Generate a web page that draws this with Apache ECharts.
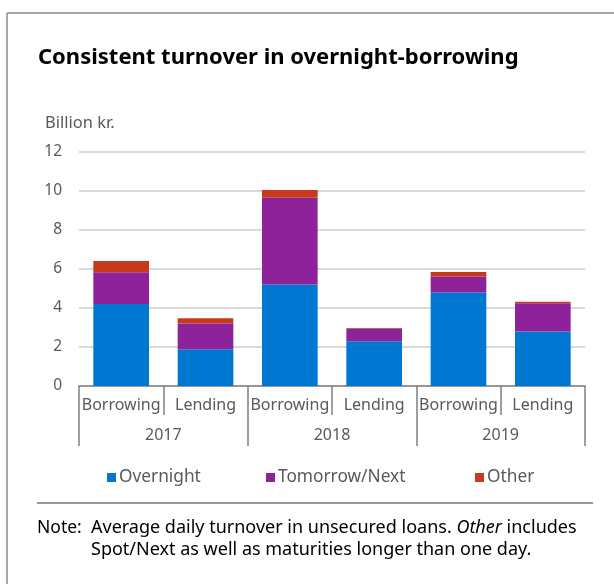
<!DOCTYPE html>
<html>
<head>
<meta charset="utf-8">
<script src="https://cdn.jsdelivr.net/npm/echarts@6/dist/echarts.min.js"></script>
<style>
html,body{margin:0;padding:0;background:#fff;}
#chart{width:614px;height:584px;}
</style>
</head>
<body>
<div id="chart"></div>
<script>
var categories = ['Borrowing', 'Lending', 'Borrowing', 'Lending', 'Borrowing', 'Lending'];
var years = ['2017', '2018', '2019'];
var overnight = [4.2, 1.88, 5.21, 2.29, 4.79, 2.8];
var tomorrowNext = [1.63, 1.33, 4.45, 0.65, 0.83, 1.44];
var other = [0.58, 0.26, 0.39, 0.03, 0.23, 0.08];
var seriesNames = ['Overnight', 'Tomorrow/Next', 'Other'];
var colors = ['#0078D2', '#8E229A', '#C83A1E'];

var FONT = 'Noto Sans';
var chart = echarts.init(document.getElementById('chart'));

function legendAt(name, left) {
  return {
    data: [name], left: left, top: 464, itemWidth: 9, itemHeight: 9, itemGap: 0,
    icon: 'rect', selectedMode: false,
    textStyle: { fontFamily: FONT, fontSize: 17.3, color: '#595959', padding: [0, 0, 0, -2] }
  };
}

var option = {
  animation: false,
  color: colors,
  title: {
    text: 'Consistent turnover in overnight-borrowing',
    left: 33, top: 42,
    textStyle: { fontFamily: FONT, fontSize: 22, fontWeight: 'bold', color: '#000' }
  },
  legend: [legendAt(seriesNames[0], 102), legendAt(seriesNames[1], 261), legendAt(seriesNames[2], 470)],
  grid: { left: 79, right: 29, top: 152, bottom: 198, containLabel: false },
  xAxis: [
    {
      type: 'category', data: categories, position: 'bottom',
      axisLine: { lineStyle: { color: '#808080', width: 1.5 } },
      axisTick: { show: true, interval: 0, length: 29, lineStyle: { color: '#808080', width: 1.5 } },
      axisLabel: { interval: 0, margin: 11, fontFamily: FONT, fontSize: 16, color: '#595959' }
    },
    {
      type: 'category', data: years, position: 'bottom',
      axisLine: { show: false },
      axisTick: { show: true, interval: 0, length: 60, lineStyle: { color: '#808080', width: 1.5 } },
      axisLabel: { interval: 0, margin: 41, fontFamily: FONT, fontSize: 16, color: '#595959' }
    }
  ],
  yAxis: {
    type: 'value', min: 0, max: 12, interval: 2,
    axisLine: { show: false }, axisTick: { show: false },
    splitLine: { lineStyle: { color: '#d9d9d9', width: 2 } },
    axisLabel: { margin: 17, fontFamily: FONT, fontSize: 15.5, color: '#595959' }
  },
  series: [
    { name: seriesNames[0], type: 'bar', stack: 'a', data: overnight, barWidth: '66%', xAxisIndex: 0 },
    { name: seriesNames[1], type: 'bar', stack: 'a', data: tomorrowNext, xAxisIndex: 0 },
    { name: seriesNames[2], type: 'bar', stack: 'a', data: other, xAxisIndex: 0 }
  ],
  graphic: [
    { type: 'line', shape: { x1: 7, y1: 13, x2: 614, y2: 13 }, style: { stroke: '#a6a6a6', lineWidth: 2 } },
    { type: 'line', shape: { x1: 7, y1: 13, x2: 7, y2: 584 }, style: { stroke: '#a6a6a6', lineWidth: 2 } },
    { type: 'line', shape: { x1: 37, y1: 503, x2: 593, y2: 503 }, style: { stroke: '#999999', lineWidth: 2 } },
    { type: 'text', left: 45, top: 115, style: { text: 'Billion kr.', fontFamily: FONT, fontSize: 16.5, fill: '#595959' } },
    { type: 'text', left: 37, top: 517, style: { text: 'Note:', fontFamily: FONT, fontSize: 17.5, fill: '#000', lineHeight: 22 } },
    { type: 'text', left: 91, top: 517, style: {
        text: 'Average daily turnover in unsecured loans. {i|Other} includes\nSpot/Next as well as maturities longer than one day.',
        fontFamily: FONT, fontSize: 18, fill: '#000', lineHeight: 22,
        rich: { i: { fontStyle: 'italic', fontFamily: FONT, fontSize: 18, fill: '#000', lineHeight: 22 } }
    } }
  ]
};
chart.setOption(option);
</script>
</body>
</html>
